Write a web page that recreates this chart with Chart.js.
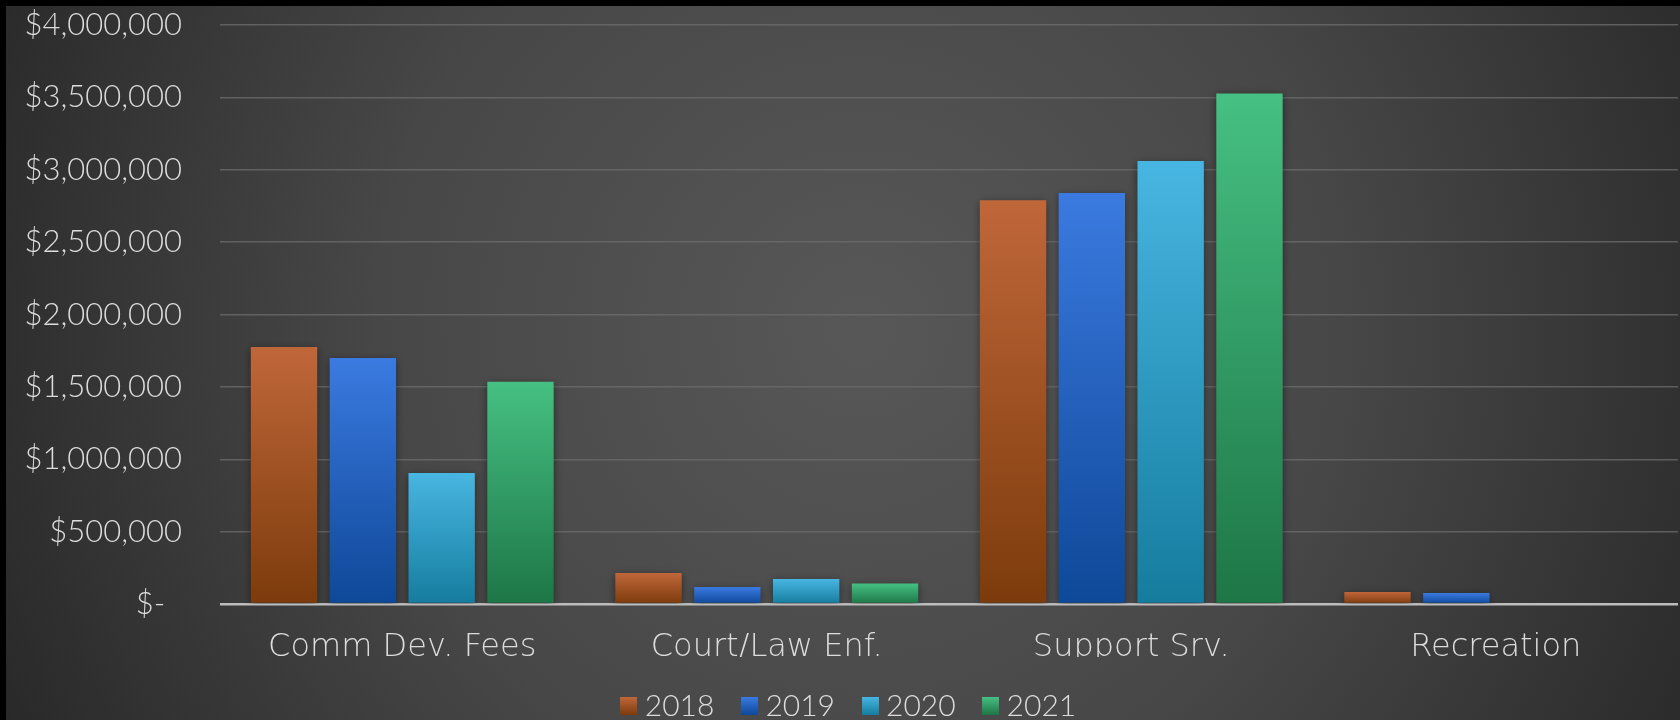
<!DOCTYPE html>
<html>
<head>
<meta charset="utf-8">
<script src="https://cdn.jsdelivr.net/npm/chart.js@4/dist/chart.umd.min.js"></script>
<style>
  html, body { margin: 0; padding: 0; background: #000; }
  #wrap { width: 1680px; height: 720px; }
</style>
</head>
<body>
<div id="wrap"><canvas id="chart" width="1680" height="720"></canvas></div>
<script>
const categories = ["Comm Dev. Fees", "Court/Law Enf.", "Support Srv.", "Recreation"];
const years = ["2018", "2019", "2020", "2021"];
const values2018 = [1775000, 215000, 2790000, 83000];
const values2019 = [1700000, 118000, 2840000, 76000];
const values2020 = [905000, 173000, 3060000, null];
const values2021 = [1536000, 141000, 3527000, null];
const yTicks = [0, 500000, 1000000, 1500000, 2000000, 2500000, 3000000, 3500000, 4000000];

// top / bottom colour of each bar
const barColors = [
  ["#c0673a", "#7c3b0c"],
  ["#3b7ae0", "#0e4898"],
  ["#48b6e2", "#157c9e"],
  ["#46c083", "#1d7646"],
];

const textColor = "#dcdcdc";
const fontFamily = "Lato, 'Open Sans', sans-serif";
const wideFont = "'DejaVu Sans', sans-serif";

function barGradient(context, i) {
  const chart = context.chart;
  const y = chart.scales && chart.scales.y;
  if (!y || context.raw == null || context.type !== "data") return barColors[i][0];
  const top = y.getPixelForValue(context.raw);
  const bottom = y.getPixelForValue(0);
  if (!isFinite(top) || !isFinite(bottom) || top === bottom) return barColors[i][0];
  const g = chart.ctx.createLinearGradient(0, top, 0, bottom);
  g.addColorStop(0, barColors[i][0]);
  g.addColorStop(1, barColors[i][1]);
  return g;
}

function legendBox(i) {
  const c = document.createElement("canvas");
  c.width = 17;
  c.height = 18;
  const cx = c.getContext("2d");
  const g = cx.createLinearGradient(0, 0, 0, 18);
  g.addColorStop(0, barColors[i][0]);
  g.addColorStop(1, barColors[i][1]);
  cx.fillStyle = g;
  cx.fillRect(0, 0, 17, 18);
  return c;
}

const background = {
  id: "background",
  beforeDraw(chart) {
    const { ctx, width, height } = chart;
    ctx.save();
    ctx.fillStyle = "#000";
    ctx.fillRect(0, 0, width, height);
    const g = ctx.createRadialGradient(860, 330, 20, 860, 330, 1050);
    g.addColorStop(0, "#575757");
    g.addColorStop(0.45, "#474747");
    g.addColorStop(1, "#222222");
    ctx.fillStyle = g;
    ctx.fillRect(6, 6, width - 6, height - 6);
    ctx.restore();
  },
  beforeDatasetsDraw(chart) {
    chart.ctx.save();
    chart.ctx.shadowColor = "rgba(0,0,0,0.45)";
    chart.ctx.shadowBlur = 8;
    chart.ctx.shadowOffsetX = 0;
    chart.ctx.shadowOffsetY = 2;
  },
  afterDatasetsDraw(chart) {
    chart.ctx.restore();
  },
};

const seriesValues = [values2018, values2019, values2020, values2021];

new Chart(document.getElementById("chart"), {
  type: "bar",
  data: {
    labels: categories,
    datasets: seriesValues.map((vals, i) => ({
      label: years[i],
      data: vals,
      backgroundColor: (ctx) => barGradient(ctx, i),
      borderWidth: 0,
      categoryPercentage: 0.865,
      barPercentage: 0.842,
    })),
  },
  options: {
    responsive: false,
    animation: false,
    layout: { padding: { top: 0, right: 2, left: 26, bottom: -11 } },
    plugins: {
      tooltip: { enabled: false },
      legend: {
        position: "bottom",
        labels: {
          color: textColor,
          font: { family: fontFamily, size: 30, weight: 300 },
          padding: 34,
          boxWidth: 2,
          boxHeight: 2,
          usePointStyle: true,
          generateLabels: (chart) =>
            years.map((y, i) => ({
              text: y,
              pointStyle: legendBox(i),
              fillStyle: barColors[i][0],
              strokeStyle: barColors[i][0],
              lineWidth: 0,
              fontColor: textColor,
              datasetIndex: i,
              hidden: false,
            })),
        },
      },
    },
    scales: {
      x: {
        grid: { display: false },
        border: { display: false },
        ticks: {
          color: textColor,
          font: { family: wideFont, size: 32, weight: 200 },
          padding: 16,
        },
        afterFit: (scale) => { scale.height = 53; },
      },
      y: {
        min: 0,
        max: 4000000,
        afterBuildTicks: (scale) => { scale.ticks = yTicks.map((v) => ({ value: v })); },
        border: { display: false },
        grid: {
          color: (ctx) => (ctx.tick && ctx.tick.value === 0 ? "#bdbdbd" : "rgba(110,110,110,0.75)"),
          lineWidth: (ctx) => (ctx.tick && ctx.tick.value === 0 ? 2.5 : 1.5),
          drawTicks: false,
        },
        ticks: {
          color: textColor,
          font: { family: fontFamily, size: 31, weight: 300 },
          padding: 38,
          callback: (v) => (v === 0 ? "$-  " : "$" + v.toLocaleString("en-US")),
        },
        afterFit: (scale) => {
          scale.width = 194;
          scale.paddingTop = 25;
          scale.paddingBottom = 0;
        },
      },
    },
  },
  plugins: [background],
});
</script>
</body>
</html>
